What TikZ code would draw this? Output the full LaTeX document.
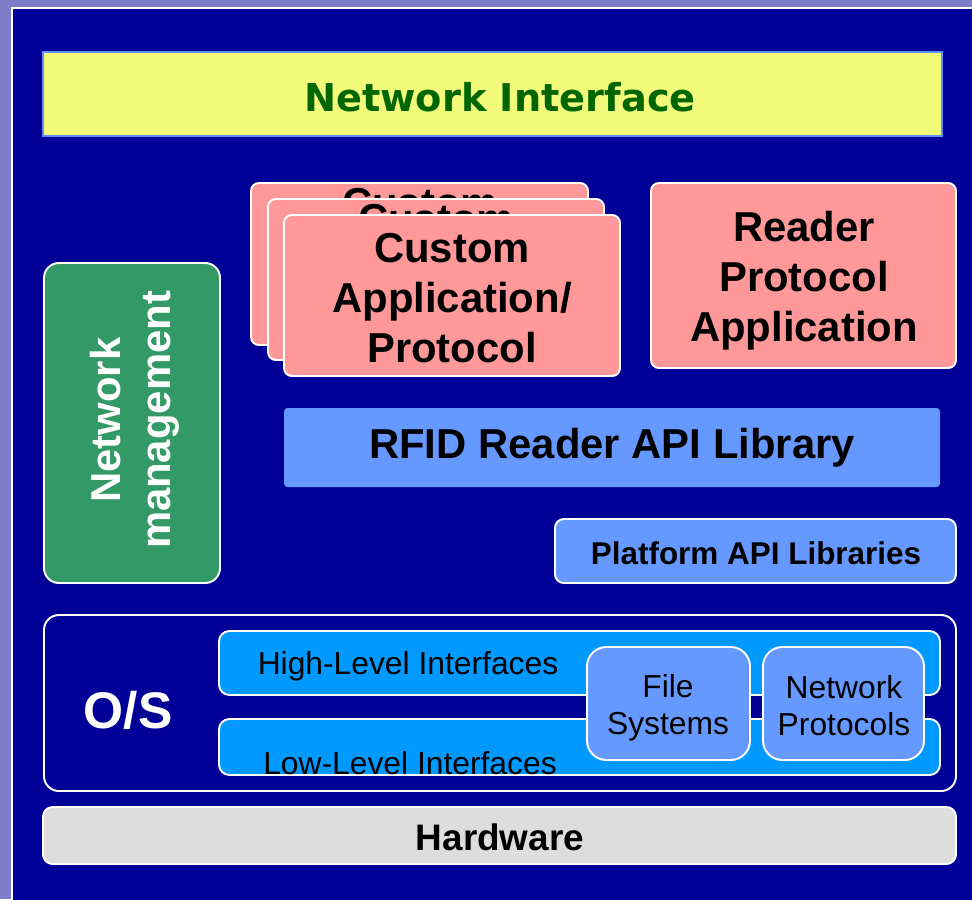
\documentclass[tikz,border=0pt]{standalone}
\usepackage{fontspec}
\setmainfont{Liberation Sans}
\newfontfamily\nifont{DejaVu Sans}

\definecolor{outerbg}{HTML}{7E7EC8}
\definecolor{panelbg}{HTML}{000099}
\definecolor{niyellow}{HTML}{F2FA7A}
\definecolor{niline}{HTML}{5F8FFF}
\definecolor{nigreen}{HTML}{006600}
\definecolor{pinkbox}{HTML}{FF9999}
\definecolor{mgmtgreen}{HTML}{339966}
\definecolor{libblue}{HTML}{6699FF}
\definecolor{ifblue}{HTML}{0099FF}
\definecolor{hwgrey}{HTML}{DDDDDD}

\begin{document}
\begin{tikzpicture}[x=0.02cm,y=-0.02cm,
  box/.style={draw=white,line width=1.1pt},
  bigtext/.style={font=\fontsize{23.8}{28.4}\selectfont\bfseries,align=center,text=black},
  smalltext/.style={font=\fontsize{18.1}{21}\selectfont,align=center,text=black}]
\useasboundingbox (0,0) rectangle (972,899);
% Slide background
\fill[outerbg] (0,0) rectangle (972,899);
\fill[panelbg] (12,8) rectangle (980,905);
\draw[white,line width=1.7pt] (12,905) -- (12,8) -- (980,8);
% Network interface
\draw[fill=niyellow,draw=niline,line width=1.5pt] (43,52) rectangle (942,136);
\node[font=\nifont\fontsize{21.8}{26}\selectfont\bfseries,text=nigreen] (netif) at (500,97) {Network Interface};
% Custom application stack
\draw[box,fill=pinkbox,rounded corners=4.5pt] (251,183) rectangle (588,345);
\node[bigtext] (custA) at (420,203) {Custom};
\draw[box,fill=pinkbox,rounded corners=4.5pt] (268,199) rectangle (604,360);
\node[bigtext] (custB) at (436,219) {Custom};
\draw[box,fill=pinkbox,rounded corners=4.5pt] (284,215) rectangle (620,376);
\node[bigtext] (custC) at (452,298) {Custom\\Application/\\Protocol};
% Reader protocol application
\draw[box,fill=pinkbox,rounded corners=4.5pt] (651,183) rectangle (956,368);
\node[bigtext] (reader) at (804,281) {Reader\\Protocol\\Application};
% Network management
\draw[box,fill=mgmtgreen,rounded corners=8.5pt] (44,263) rectangle (220,583);
\node[bigtext,text=white,rotate=90] (netmgmt) at (135,420) {Network\\management};
% API libraries
\fill[libblue,rounded corners=2pt] (284,408) rectangle (940,487);
\node[bigtext] (rfidapi) at (612,448) {RFID Reader API Library};
\draw[box,fill=libblue,rounded corners=5pt] (555,519) rectangle (956,583);
\node[bigtext,font=\fontsize{17.9}{21}\selectfont\bfseries] (platapi) at (756,553) {Platform API Libraries};
% O/S
\draw[box,rounded corners=8.5pt] (44,615) rectangle (956,791);
\node[bigtext,text=white,font=\fontsize{29.3}{34}\selectfont\bfseries] (os) at (128,710) {O/S};
\draw[box,fill=ifblue,rounded corners=6pt] (219,631) rectangle (940,695);
\node[smalltext] (highif) at (408,666) {High-Level Interfaces};
\draw[box,fill=ifblue,rounded corners=6pt] (219,719) rectangle (940,775);
\node[smalltext] (lowif) at (410,763) {Low-Level Interfaces};
\draw[box,fill=libblue,rounded corners=11pt] (587,647) rectangle (750,760);
\node[smalltext] (filesys) at (668,708) {File\\Systems};
\draw[box,fill=libblue,rounded corners=11pt] (763,647) rectangle (924,760);
\node[smalltext] (netproto) at (844,706) {Network\\Protocols};
% Hardware
\draw[box,fill=hwgrey,rounded corners=5.5pt] (43,807) rectangle (956,864);
\node[bigtext,font=\fontsize{21}{25}\selectfont\bfseries] (hw) at (500,837) {Hardware};
\end{tikzpicture}
\end{document}
